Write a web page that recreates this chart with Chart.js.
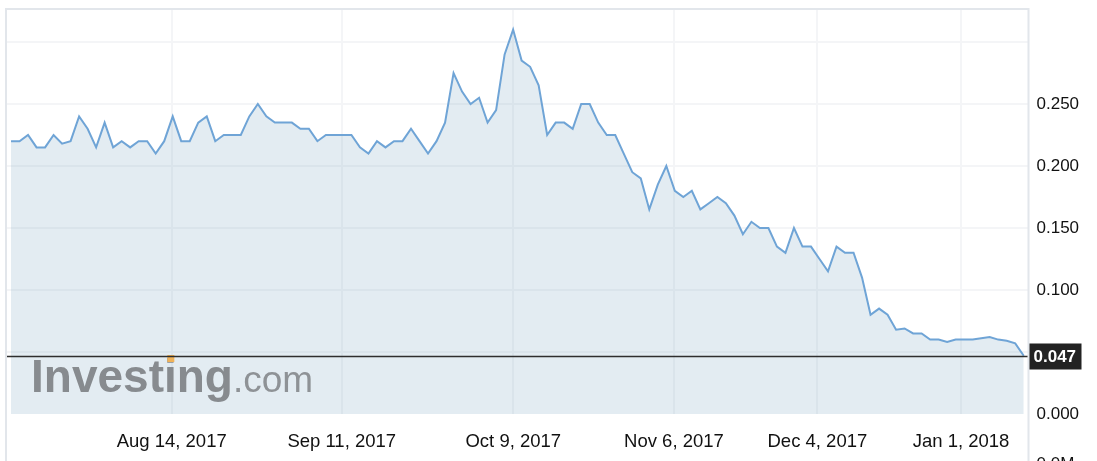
<!DOCTYPE html>
<html>
<head>
<meta charset="utf-8">
<script src="https://cdn.jsdelivr.net/npm/chart.js@4/dist/chart.umd.min.js"></script>
<style>
  html, body { margin: 0; padding: 0; background: #ffffff; }
  #wrap { position: relative; width: 1097px; height: 461px; overflow: hidden; }
  canvas { display: block; }
</style>
</head>
<body>
<div id="wrap"><canvas id="c" width="1097" height="461"></canvas></div>
<script>
// ---- data ----
const priceValues = [
  0.22, 0.22, 0.225, 0.215, 0.215, 0.225, 0.218, 0.22, 0.24, 0.23,
  0.215, 0.235, 0.215, 0.22, 0.215, 0.22, 0.22, 0.21, 0.22, 0.24,
  0.22, 0.22, 0.235, 0.24, 0.22, 0.225, 0.225, 0.225, 0.24, 0.25,
  0.24, 0.235, 0.235, 0.235, 0.23, 0.23, 0.22, 0.225, 0.225, 0.225,
  0.225, 0.215, 0.21, 0.22, 0.215, 0.22, 0.22, 0.23, 0.22, 0.21,
  0.22, 0.235, 0.275, 0.26, 0.25, 0.255, 0.235, 0.245, 0.29, 0.31,
  0.285, 0.28, 0.265, 0.225, 0.235, 0.235, 0.23, 0.25, 0.25, 0.235,
  0.225, 0.225, 0.21, 0.195, 0.19, 0.165, 0.185, 0.2, 0.18, 0.175,
  0.18, 0.165, 0.17, 0.175, 0.17, 0.16, 0.145, 0.155, 0.15, 0.15,
  0.135, 0.13, 0.15, 0.135, 0.135, 0.125, 0.115, 0.135, 0.13, 0.13,
  0.11, 0.08, 0.085, 0.08, 0.068, 0.069, 0.065, 0.065, 0.06, 0.06,
  0.058, 0.06, 0.06, 0.06, 0.061, 0.062, 0.06, 0.059, 0.057, 0.047
];
const xTickPositions = [18.88, 38.86, 59.02, 77.9, 94.75, 111.63];
const xTickLabels = ['Aug 14, 2017', 'Sep 11, 2017', 'Oct 9, 2017', 'Nov 6, 2017', 'Dec 4, 2017', 'Jan 1, 2018'];
const yTickValues = [0, 0.05, 0.1, 0.15, 0.2, 0.25, 0.3];
const yTickLabels = ['0.000', '', '0.100', '0.150', '0.200', '0.250', ''];
const volumeAxisLabel = '0.0M';
const watermarkMain = 'Investing';
const watermarkSuffix = '.com';

// ---- styling ----
const FONT = '"Liberation Sans", Arial, Helvetica, sans-serif';
const GRID = '#f4f5f7';
const BORDER = '#e2e6eb';

const overlayPlugin = {
  id: 'overlay',
  afterDatasetsDraw(chart) {
    const ctx = chart.ctx;
    const area = chart.chartArea;
    const yS = chart.scales.y;
    ctx.save();

    // watermark
    ctx.textBaseline = 'alphabetic';
    ctx.textAlign = 'left';
    ctx.font = 'bold 46px ' + FONT;
    ctx.fillStyle = '#878b8f';
    const wx = 31, wy = 392;
    ctx.fillText(watermarkMain, wx, wy);
    const mainW = ctx.measureText(watermarkMain).width;
    const iPos = ctx.measureText('Invest').width;
    const iW = ctx.measureText('i').width;
    ctx.font = '37px ' + FONT;
    ctx.fillStyle = '#8e9296';
    ctx.fillText(watermarkSuffix, wx + mainW, wy);
    // orange dot of the "i"
    ctx.fillStyle = '#f0b35a';
    ctx.fillRect(wx + iPos + iW / 2 - 3, 355, 7, 7);

    // current-price line
    const last = priceValues[priceValues.length - 1];
    const py = Math.round(yS.getPixelForValue(last)) + 0.5;
    ctx.strokeStyle = '#2e2e2e';
    ctx.lineWidth = 1.5;
    ctx.beginPath();
    ctx.moveTo(6, py);
    ctx.lineTo(area.right, py);
    ctx.stroke();

    // current-price label box
    ctx.fillStyle = '#232323';
    ctx.fillRect(area.right, py - 13, 53, 26);
    ctx.fillStyle = '#ffffff';
    ctx.font = 'bold 17px ' + FONT;
    ctx.textBaseline = 'middle';
    ctx.fillText(last.toFixed(3), area.right + 5, py + 1);

    // frame
    ctx.strokeStyle = BORDER;
    ctx.lineWidth = 2;
    ctx.beginPath();
    ctx.moveTo(5, 9); ctx.lineTo(area.right + 1, 9);
    ctx.moveTo(6, 9); ctx.lineTo(6, 461);
    ctx.moveTo(area.right, 9); ctx.lineTo(area.right, 461);
    ctx.stroke();

    // volume axis label (cut off at the bottom)
    ctx.fillStyle = '#111111';
    ctx.font = '17px ' + FONT;
    ctx.textBaseline = 'top';
    ctx.fillText(volumeAxisLabel, area.right + 8, 456);

    ctx.restore();
  }
};

new Chart(document.getElementById('c'), {
  type: 'line',
  data: {
    datasets: [{
      data: priceValues.map((v, i) => ({ x: i, y: v })),
      borderColor: '#6fa4d6',
      borderWidth: 2,
      backgroundColor: 'rgba(115,160,192,0.2)',
      fill: 'origin',
      pointRadius: 0,
      tension: 0
    }]
  },
  options: {
    responsive: false,
    devicePixelRatio: 1,
    animation: false,
    events: [],
    layout: { padding: { left: 6, top: 9, right: 0, bottom: 0 } },
    plugins: { legend: { display: false }, tooltip: { enabled: false } },
    scales: {
      x: {
        type: 'linear',
        min: -0.59,
        max: 119.56,
        afterBuildTicks: s => { s.ticks = xTickPositions.map(v => ({ value: v })); },
        afterFit: s => { s.height = 47; s.paddingLeft = 0; s.paddingRight = 0; },
        ticks: {
          autoSkip: false,
          maxRotation: 0,
          callback: (v, i) => xTickLabels[i],
          font: { family: FONT, size: 18.5 },
          color: '#111111',
          padding: 17
        },
        grid: { color: GRID, lineWidth: 2, drawTicks: false },
        border: { display: false }
      },
      y: {
        position: 'right',
        min: 0,
        max: 0.3266,
        afterBuildTicks: s => { s.ticks = yTickValues.map(v => ({ value: v })); },
        afterFit: s => { s.width = 68.5; s.paddingTop = 0; s.paddingBottom = 0; },
        ticks: {
          autoSkip: false,
          callback: (v, i) => yTickLabels[i],
          font: { family: FONT, size: 17 },
          color: '#111111',
          padding: 8
        },
        grid: {
          color: c => (c.tick && c.tick.value === 0) ? 'rgba(0,0,0,0)' : GRID,
          lineWidth: 2,
          drawTicks: false
        },
        border: { display: false }
      }
    }
  },
  plugins: [overlayPlugin]
});
</script>
</body>
</html>
